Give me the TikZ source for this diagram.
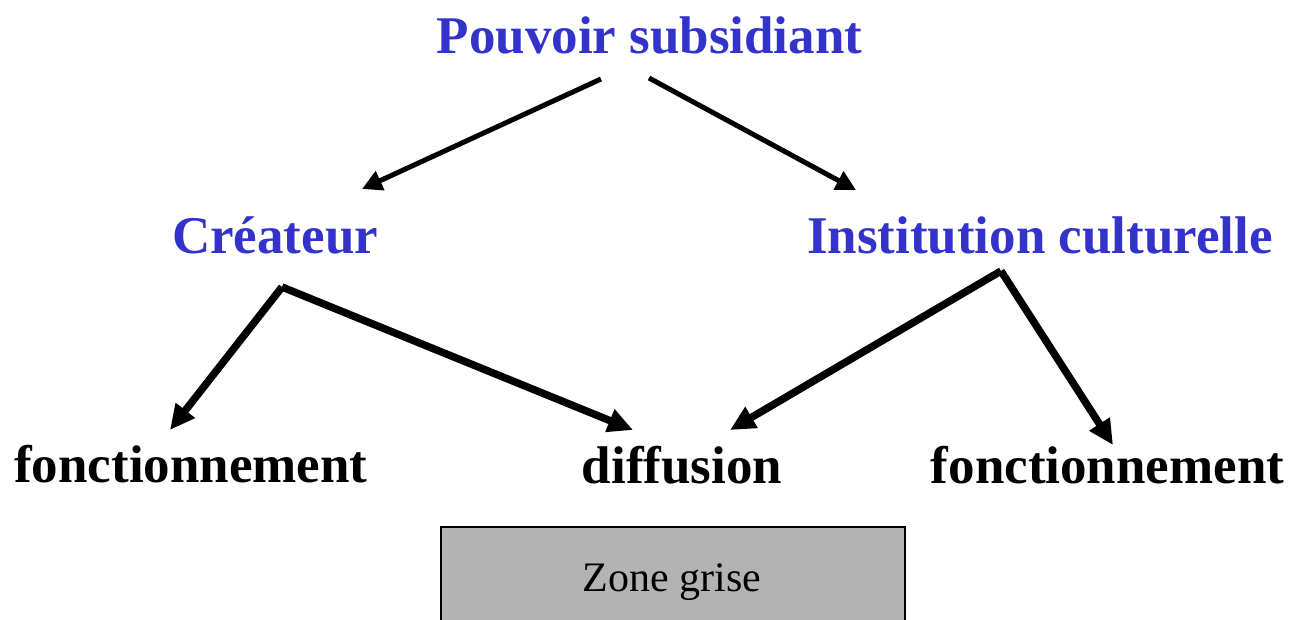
\documentclass[tikz,border=0pt]{standalone}
\usepackage{fontspec}
\setmainfont{Liberation Serif}
\usetikzlibrary{arrows.meta}
\definecolor{titleblue}{HTML}{3333CC}
\definecolor{zonegray}{HTML}{B3B3B3}
\tikzset{
  big/.style={font=\fontsize{53}{60}\selectfont\bfseries, inner sep=0pt, anchor=base},
  bluetxt/.style={big, text=titleblue},
  thinarrow/.style={line width=5pt, -{Triangle[length=20pt,width=20pt]}},
  thickarrow/.style={line width=7.5pt, -{Triangle[length=25pt,width=23pt]}},
  zonebox/.style={draw=black, line width=1.5pt, fill=zonegray, minimum width=464pt, minimum height=100pt, inner sep=0pt},
  zonetxt/.style={font=\fontsize{42}{48}\selectfont, inner sep=0pt, anchor=base}
}
\begin{document}
\begin{tikzpicture}[x=1pt,y=-1pt]
\useasboundingbox (0,0) rectangle (1291,619);
% nodes
\node[bluetxt] (pouv) at (649.5,53) {Pouvoir subsidiant};
\node[bluetxt] (cre) at (275,253) {Créateur};
\node[bluetxt] (inst) at (1040,253) {Institution culturelle};
\node[big] (fonc1) at (191,482) {fonctionnement};
\node[big] (diff) at (682,483) {diffusion};
\node[big] (fonc2) at (1107.5,483) {fonctionnement};
\node[zonebox] (zone) at (673,577) {};
\node[zonetxt] (zonelabel) at (672,591) {Zone grise};
% connector ends
\coordinate (pouvL) at (601,79);
\coordinate (pouvR) at (649,78);
\coordinate (creIn) at (362,189);
\coordinate (instIn) at (856,190);
\coordinate (creOut) at (282,287);
\coordinate (instOut) at (1001,271);
\coordinate (fonc1In) at (170,430);
\coordinate (diffInL) at (633,430);
\coordinate (diffInR) at (730,430);
\coordinate (fonc2In) at (1113,445);
% connectors
\draw[thinarrow] (pouvL) -- (creIn);
\draw[thinarrow] (pouvR) -- (instIn);
\draw[thickarrow] (creOut) -- (fonc1In);
\draw[thickarrow] (creOut) -- (diffInL);
\draw[thickarrow] (instOut) -- (diffInR);
\draw[thickarrow] (instOut) -- (fonc2In);
\end{tikzpicture}
\end{document}
